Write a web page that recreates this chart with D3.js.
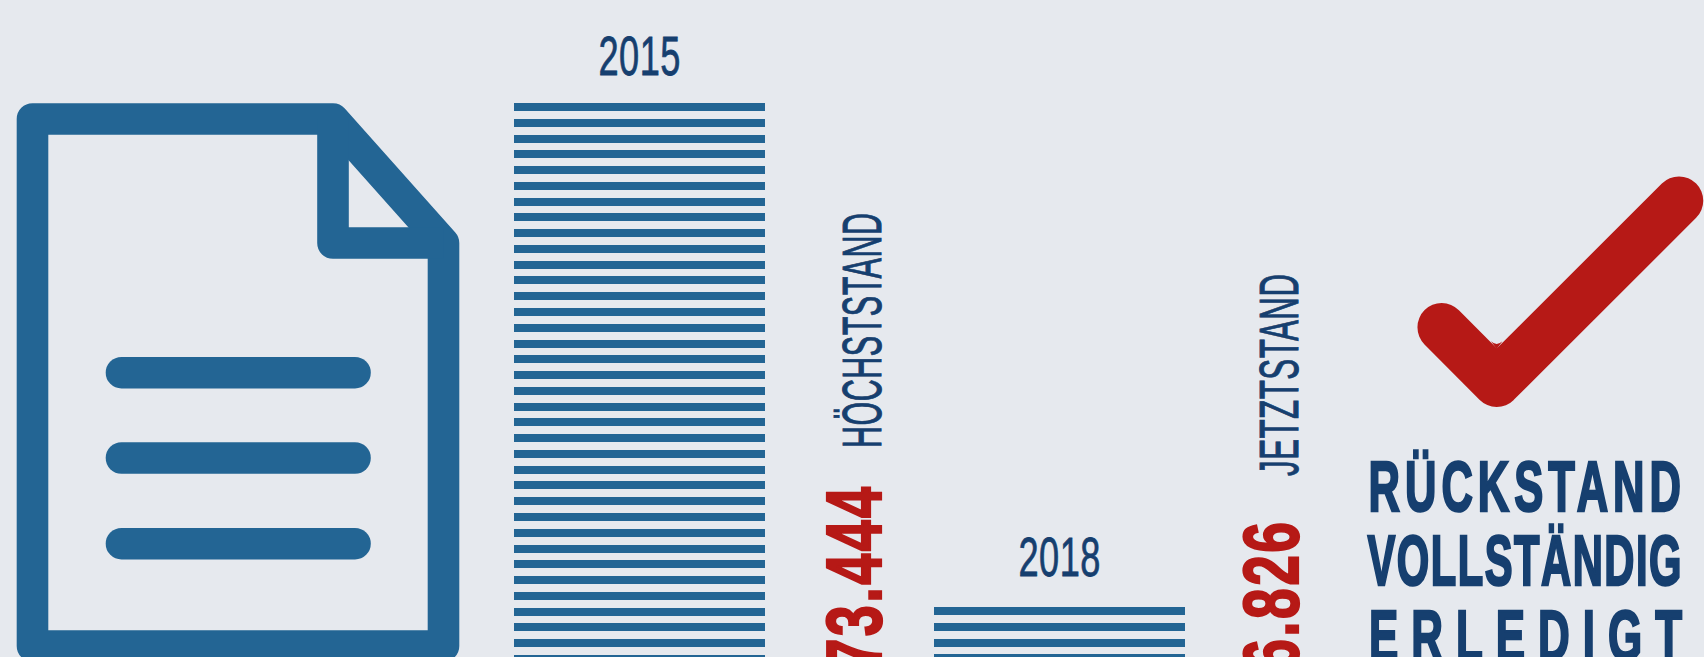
<!DOCTYPE html>
<html>
<head>
<meta charset="utf-8">
<script src="https://cdn.jsdelivr.net/npm/d3@7"></script>
<style>
  html, body { margin: 0; padding: 0; background: #e6e9ee; overflow: hidden; }
  svg { display: block; }
</style>
</head>
<body>
<svg id="canvas" width="1704" height="657"></svg>
<script>
let years = ['2015', '2018']
let backlog = [173444, 16826]
let backlogLabels = ['173.444', '16.826']
let statusLabels = ['HÖCHSTSTAND', 'JETZTSTAND']
let doneLines = ['RÜCKSTAND', 'VOLLSTÄNDIG', 'ERLEDIGT']

let width = 1704
let height = 657
let stripePeriod = 15.77
let stripeHeight = 8
let yearOffsets = [27.5, 31]

let blue = '#236594'
let navy = '#163f6f'
let red = '#b61916'
let condensed = '"Liberation Sans Narrow", "Liberation Sans", sans-serif'

let canvas = d3.select('#canvas')

let xScale = d3.scaleBand()
    .domain(years)
    .range([514, 1185])
    .paddingInner(0.4024)

let yScale = d3.scaleLinear()
    .domain([0, d3.max(backlog)])
    .range([661.2, 103])

// squeeze the glyphs so that, with "gap" extra pixels between letters, the text fills len
let drawText = (str, x, y, len, opts) => {
    let sw = opts.stroke
    let px = opts.rotate ? x - sw / 2 : x
    let py = opts.rotate ? y : y - sw / 2
    let rotate = opts.rotate ? ' rotate(-90)' : ''

    let text = canvas.append('text')
        .attr('font-family', condensed)
        .attr('font-weight', opts.weight)
        .attr('font-size', opts.size)
        .attr('fill', opts.fill)
        .attr('stroke', opts.fill)
        .attr('stroke-width', sw)
        .text(str)

    let natural = text.node().getComputedTextLength()
    let sx = (len - opts.gap * (str.length - 1)) / natural

    text.attr('transform', `translate(${px},${py})${rotate} scale(${sx},1)`)
        .attr('textLength', len / sx)
        .attr('lengthAdjust', 'spacing')
    return text
}

let drawIcon = () => {
    let doc = canvas.append('g')
        .attr('fill', 'none')
        .attr('stroke', blue)
        .attr('stroke-width', 31.6)
        .attr('stroke-linejoin', 'round')

    doc.append('path').attr('d', 'M32.5 119H333L443.5 243V646H32.5Z')
    doc.append('path').attr('d', 'M333 119V243H443.5')

    doc.selectAll('line')
        .data([372.7, 458, 543.7])
        .enter()
        .append('line')
        .attr('stroke-linecap', 'round')
        .attr('x1', 121.5)
        .attr('x2', 355)
        .attr('y1', (d) => d)
        .attr('y2', (d) => d)
}

let drawBars = () => {
    let groups = canvas.selectAll('g.bar')
        .data(years)
        .enter()
        .append('g')
        .attr('class', 'bar')

    groups.each(function(year, i) {
        let top = yScale(backlog[i])
        let rows = d3.range(Math.ceil((yScale(0) - top) / stripePeriod))
        d3.select(this).selectAll('rect')
            .data(rows)
            .enter()
            .append('rect')
            .attr('x', xScale(year))
            .attr('y', (row) => Math.round(top + row * stripePeriod))
            .attr('width', xScale.bandwidth())
            .attr('height', stripeHeight)
            .attr('fill', blue)

        drawText(year, xScale(year) + xScale.bandwidth() / 2 - 41, top - yearOffsets[i], 82,
            {size: 56, gap: 0.5, stroke: 0.8, weight: 400, fill: navy})
    })
}

let drawLabels = () => {
    let status = {rotate: true, size: 56, gap: 0.5, stroke: 1, weight: 400, fill: navy}
    drawText(statusLabels[0], 881.7, 448, 235, status)
    drawText(statusLabels[1], 1298.7, 476, 202, status)

    let amount = {rotate: true, size: 78, gap: 2.5, stroke: 2.2, weight: 700, fill: red}
    drawText(backlogLabels[0], 881.7, 703, 216, amount)
    drawText(backlogLabels[1], 1298.7, 703, 181, amount)

    let done = {size: 70.5, stroke: 2.5, weight: 700, fill: navy}
    drawText(doneLines[0], 1368.5, 512.7, 312.5, {...done, gap: 5})
    drawText(doneLines[1], 1367.5, 586.7, 314, {...done, gap: 1.5})
    drawText(doneLines[2], 1369, 661, 313, {...done, gap: 13})
}

let drawCheck = () => {
    canvas.append('path')
        .attr('d', 'M1441.7 327.3L1496.7 382.7L1679 200.7')
        .attr('fill', 'none')
        .attr('stroke', red)
        .attr('stroke-width', 48.5)
        .attr('stroke-linejoin', 'round')
        .attr('stroke-linecap', 'round')

    // the notch of the tick is rounded off slightly
    canvas.append('path')
        .attr('d', 'M1491 341.3Q1496.7 346.7 1502.4 341.3L1496.7 349Z')
        .attr('fill', red)
}

drawIcon()
drawBars()
drawLabels()
drawCheck()
</script>
</body>
</html>
